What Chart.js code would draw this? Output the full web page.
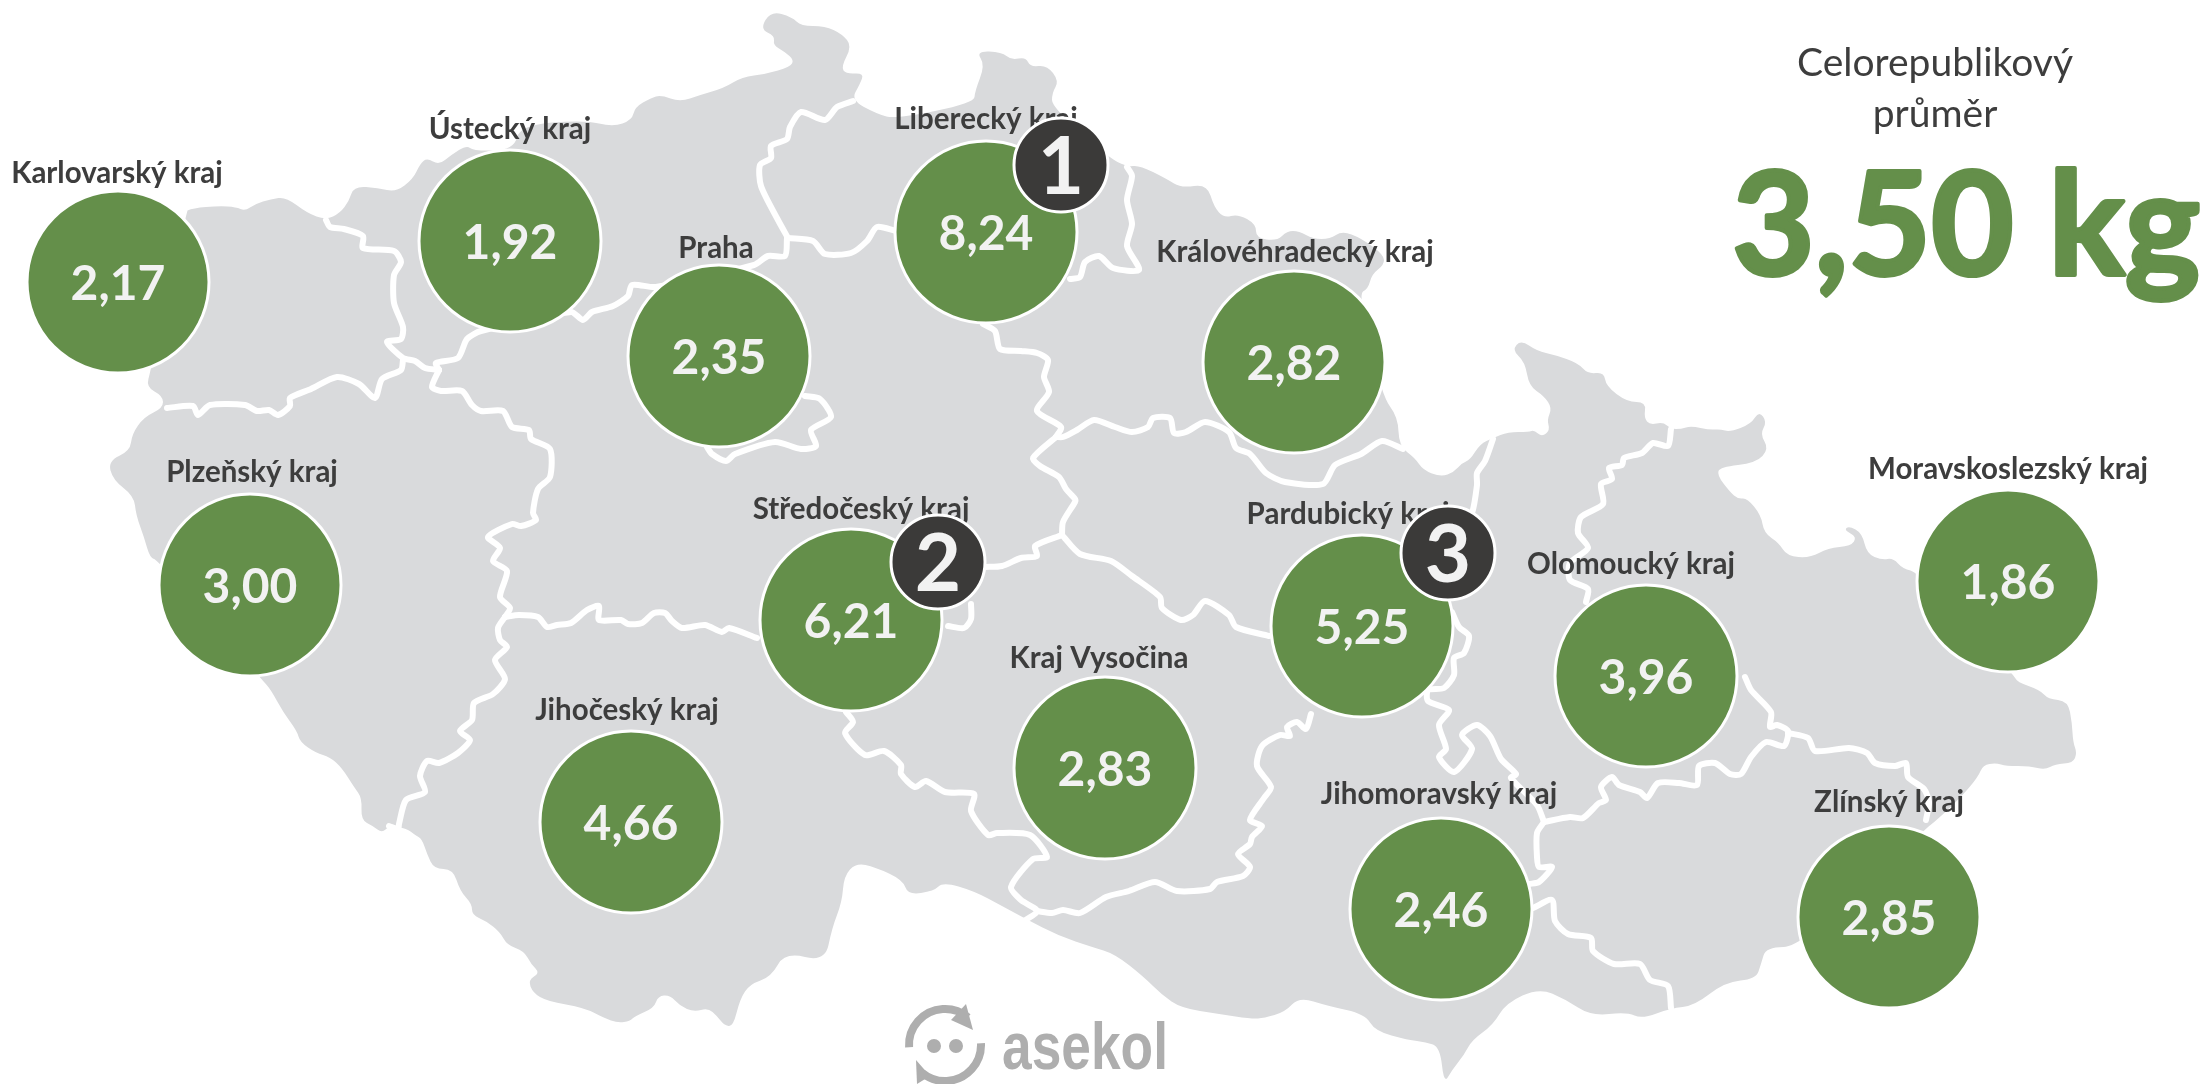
<!DOCTYPE html>
<html lang="cs">
<head>
<meta charset="utf-8">
<title>Celorepublikový průměr</title>
<script src="https://cdn.jsdelivr.net/npm/chart.js@4"></script>
<style>
  html, body { margin: 0; padding: 0; background: #fff; }
  canvas { display: block; }
</style>
</head>
<body>
<canvas id="mapa" width="2209" height="1084"></canvas>
<script>
// Kraje a hodnoty
const kraje = ['Karlovarský kraj', 'Ústecký kraj', 'Praha', 'Liberecký kraj', 'Královéhradecký kraj', 'Plzeňský kraj',
  'Středočeský kraj', 'Pardubický kraj', 'Olomoucký kraj', 'Moravskoslezský kraj', 'Jihočeský kraj', 'Kraj Vysočina',
  'Jihomoravský kraj', 'Zlínský kraj'];
const hodnoty = [2.17, 1.92, 2.35, 8.24, 2.82, 3.00, 6.21, 5.25, 3.96, 1.86, 4.66, 2.83, 2.46, 2.85];

// Poloha krajů na mapě
const krajX = [118, 510, 719, 986, 1294, 250, 851, 1362, 1646, 2008, 631, 1105, 1441, 1889];
const krajY = [282, 241, 356, 232, 362, 585, 620, 626, 676, 581, 822, 768, 909, 917];
const popisekX = [117, 510, 716, 986, 1295, 252, 861, 1348, 1631, 2008, 627, 1099, 1439, 1889];
const popisekY = [183, 139, 258, 129, 262, 482, 519, 524, 574, 479, 720, 668, 804, 812];

// Pořadí
const poradi = ['1', '2', '3'];
const poradiX = [1061, 938, 1448];
const poradiY = [165, 562, 553];

const prumerPopis = ['Celorepublikový', 'průměr'];
const prumer = '3,50 kg';

// Obrys republiky
const obrys = [[182,213],[193,208],[219,206],[236,207],[245,211],[255,204],[271,199],[286,197],[307,213],[326,220],[340,213],[349,201],[354,186],[378,188],[396,192],[413,179],[420,164],[427,158],[439,165],[451,155],[467,145],[473,151],[514,150],[520,125],[585,120],[613,127],[632,120],[635,107],[651,98],[661,95],[680,102],[700,95],[724,88],[742,77],[766,74],[790,67],[794,60],[785,52],[773,45],[775,36],[760,29],[771,11],[792,17],[801,26],[825,26],[842,34],[852,46],[841,67],[846,74],[864,73],[860,84],[851,100],[877,114],[896,119],[974,103],[975,91],[985,65],[976,51],[1002,52],[1011,60],[1026,57],[1030,67],[1047,65],[1059,81],[1052,93],[1052,107],[1108,157],[1127,167],[1139,165],[1167,179],[1181,188],[1207,184],[1214,207],[1224,218],[1238,214],[1256,224],[1256,238],[1277,241],[1287,231],[1299,231],[1313,239],[1330,239],[1342,231],[1361,238],[1384,255],[1384,265],[1372,274],[1368,289],[1358,294],[1382,396],[1398,417],[1399,446],[1415,458],[1423,470],[1441,477],[1454,472],[1462,463],[1470,460],[1480,444],[1493,438],[1508,432],[1529,432],[1534,430],[1542,437],[1550,430],[1547,420],[1552,408],[1544,396],[1529,386],[1525,362],[1512,350],[1521,340],[1537,351],[1555,355],[1578,363],[1588,374],[1604,372],[1606,386],[1627,402],[1646,402],[1644,418],[1650,425],[1663,422],[1671,429],[1681,429],[1691,426],[1710,430],[1720,429],[1730,432],[1751,424],[1759,411],[1767,422],[1760,434],[1769,449],[1756,463],[1720,467],[1717,475],[1730,492],[1738,499],[1747,498],[1761,515],[1764,533],[1779,543],[1787,556],[1810,558],[1828,548],[1851,546],[1857,537],[1844,530],[1849,526],[1862,533],[1867,554],[1882,560],[1893,558],[1903,569],[1918,572],[2014,675],[2017,682],[2040,690],[2048,699],[2068,701],[2072,723],[2073,742],[2077,753],[2073,763],[2055,764],[2045,770],[2030,766],[2006,766],[1996,763],[1983,765],[1978,777],[1962,796],[1937,820],[1924,830],[1801,947],[1766,947],[1761,964],[1756,979],[1725,982],[1694,1006],[1671,1008],[1642,1019],[1627,1012],[1591,1016],[1565,999],[1539,988],[1506,1003],[1493,1025],[1472,1040],[1464,1055],[1452,1070],[1444,1084],[1440,1047],[1426,1042],[1408,1040],[1375,1031],[1365,1014],[1328,1006],[1299,997],[1285,1012],[1264,1018],[1252,1019],[1219,1014],[1181,1008],[1162,995],[1144,977],[1115,954],[1092,947],[1059,936],[1026,919],[1002,906],[974,891],[943,882],[934,891],[908,895],[903,880],[875,867],[856,863],[844,876],[842,902],[832,928],[825,962],[785,952],[771,977],[750,984],[740,999],[733,1027],[724,1025],[717,1016],[708,1008],[694,1012],[680,1006],[670,995],[658,996],[654,1008],[635,1016],[630,1021],[618,1023],[604,1018],[585,1008],[547,1001],[533,993],[528,980],[540,973],[531,964],[524,951],[507,945],[500,932],[486,921],[472,915],[472,904],[460,891],[453,869],[434,869],[427,854],[422,839],[415,835],[406,828],[389,826],[382,833],[373,826],[361,820],[362,798],[354,787],[342,768],[330,757],[316,753],[300,742],[297,731],[283,712],[271,690],[264,682],[158,560],[150,558],[144,537],[136,515],[134,496],[113,480],[108,461],[130,451],[132,434],[144,417],[163,408],[163,396],[146,387],[151,370]];

// Hranice mezi kraji
const hranice = [
  [[167,408],[193,406],[198,415],[210,405],[245,405],[257,411],[269,410],[278,415],[290,406],[290,398],[311,389],[337,377],[359,384],[375,398],[382,379],[401,370],[403,360]],
  [[326,220],[330,227],[344,229],[363,236],[363,248],[394,251],[401,262],[394,275],[394,303],[403,327],[401,339],[387,342],[403,358],[415,361],[425,368],[439,370]],
  [[439,370],[436,363],[458,358],[467,339],[481,331],[571,312],[583,320],[592,312],[613,306],[628,296],[632,285],[656,287],[754,265],[768,256],[785,256],[787,238]],
  [[788,238],[778,220],[761,186],[760,165],[771,158],[771,146],[787,139],[790,127],[801,112],[825,120],[837,107],[853,101]],
  [[788,238],[813,241],[825,254],[851,253],[867,241],[877,227],[896,231]],
  [[1070,279],[1080,277],[1085,262],[1099,256],[1113,268],[1139,270],[1127,246],[1132,224],[1127,200],[1132,176],[1127,167]],
  [[983,324],[995,331],[1000,349],[1021,351],[1037,353],[1048,360],[1044,377],[1049,392],[1037,411],[1061,427],[1056,437]],
  [[1056,437],[1063,437],[1077,430],[1094,420],[1115,427],[1132,432],[1148,427],[1153,418],[1170,418],[1174,433],[1186,432],[1205,422],[1229,432],[1236,448],[1250,454],[1266,473],[1285,482],[1323,484],[1335,465],[1361,454],[1382,441],[1403,449]],
  [[1056,437],[1033,458],[1040,466],[1059,477],[1066,489],[1075,499],[1075,502],[1063,522],[1062,535]],
  [[1062,535],[1035,546],[1037,556],[1021,558],[1002,566],[985,567]],
  [[971,604],[971,619],[964,628],[948,626]],
  [[846,712],[853,722],[845,733],[865,755],[884,751],[901,765],[901,774],[915,787],[926,781],[945,792],[974,794],[971,811],[988,835],[997,833],[1030,835],[1047,857],[1033,859],[1011,887],[1021,900],[1037,911],[1021,923]],
  [[1037,911],[1052,913],[1063,910],[1080,913],[1106,897],[1129,891],[1155,882],[1177,891],[1210,889],[1217,882],[1243,876],[1250,867],[1238,854],[1250,844],[1252,837],[1262,826],[1250,820],[1264,798],[1271,787],[1257,766],[1262,746],[1280,735],[1290,736],[1287,727],[1297,722],[1306,729],[1311,714]],
  [[1062,535],[1080,554],[1111,561],[1132,576],[1160,597],[1162,608],[1181,620],[1193,615],[1205,601],[1229,615],[1236,627],[1269,636]],
  [[1493,439],[1485,461],[1477,473],[1477,485],[1472,513],[1462,527]],
  [[1452,612],[1459,627],[1469,636],[1464,653],[1454,658],[1454,675],[1444,688],[1428,690],[1428,701],[1449,710],[1439,725],[1446,749],[1439,757],[1454,772],[1472,749],[1462,735],[1477,725],[1490,736],[1501,759],[1516,774],[1511,778],[1537,805],[1544,822]],
  [[1544,822],[1570,817],[1583,818],[1599,803],[1606,800],[1601,787],[1612,777],[1619,785],[1640,792],[1647,798],[1658,783],[1679,783],[1697,785],[1699,766],[1715,763],[1730,774],[1741,774],[1751,757],[1766,742],[1784,746],[1788,731],[1777,725],[1770,727],[1771,712],[1751,690],[1745,677]],
  [[1788,733],[1808,738],[1815,751],[1849,748],[1867,753],[1875,763],[1895,766],[1906,763],[1908,777],[1924,789],[1929,802],[1926,820]],
  [[1544,822],[1537,833],[1537,857],[1539,867],[1552,867],[1539,882],[1529,884]],
  [[1533,908],[1552,900],[1555,921],[1568,934],[1591,938],[1593,951],[1614,964],[1640,964],[1650,980],[1668,986],[1671,1008]],
  [[1671,429],[1668,446],[1653,443],[1642,453],[1624,458],[1622,465],[1609,468],[1612,479],[1601,484],[1603,504],[1581,517],[1578,533],[1588,548],[1570,563],[1570,580],[1588,589],[1586,602]],
  [[439,370],[432,387],[441,391],[462,391],[472,405],[481,411],[503,411],[512,427],[529,430],[531,439],[550,449],[550,477],[538,489],[533,513],[536,520],[521,526],[512,524],[488,537],[500,548],[493,561],[507,571],[500,597],[510,608],[505,617]],
  [[505,617],[519,615],[538,617],[547,627],[557,625],[571,623],[587,610],[599,606],[599,620],[621,620],[628,624],[642,623],[654,613],[665,613],[672,621],[682,628],[705,625],[722,632],[729,628],[757,638]],
  [[505,617],[498,628],[500,640],[507,647],[495,660],[505,679],[493,694],[474,703],[472,720],[460,731],[470,740],[458,753],[439,763],[427,761],[420,776],[425,792],[406,800],[399,824],[398,829],[389,826]],
  [[805,396],[820,399],[831,417],[811,430],[816,446],[801,449],[775,442],[735,454],[726,461],[712,454],[707,447]]
];

const ZELENA = '#648F4A';
const SEDA = '#D9DADC';
const TMAVA = '#3B3A39';
const TEXT = '#3D3D3D';
const SVETLA = '#F2F2F2';
const LOGO = '#AEAEAE';

function napis(ctx, text, x, y, font, barva) {
  ctx.font = font;
  ctx.fillStyle = barva;
  ctx.textAlign = 'center';
  ctx.textBaseline = 'alphabetic';
  ctx.fillText(text, x, y);
}

const mapaPlugin = {
  id: 'mapa',
  // Podklad mapy pod hranicemi, rohy zaoblené přes středy úseček
  beforeDatasetsDraw(chart) {
    const ctx = chart.ctx;
    const sx = chart.scales.x, sy = chart.scales.y;
    const body = obrys.map(function (p) {
      return [sx.getPixelForValue(p[0]), sy.getPixelForValue(p[1])];
    });
    ctx.save();
    ctx.fillStyle = SEDA;
    ctx.beginPath();
    body.forEach(function (p, i) {
      const dalsi = body[(i + 1) % body.length];
      const mx = (p[0] + dalsi[0]) / 2, my = (p[1] + dalsi[1]) / 2;
      if (i === 0) ctx.moveTo(mx, my); else ctx.quadraticCurveTo(p[0], p[1], mx, my);
    });
    ctx.closePath();
    ctx.fill();
    ctx.restore();
  },
  // Názvy krajů jsou nad hranicemi, ale pod kruhy
  beforeDatasetDraw(chart, args) {
    if (chart.data.datasets[args.index].label !== 'kraje') return;
    const ctx = chart.ctx;
    const sx = chart.scales.x, sy = chart.scales.y;
    ctx.save();
    kraje.forEach(function (k, i) {
      napis(ctx, k, sx.getPixelForValue(popisekX[i]), sy.getPixelForValue(popisekY[i]), 'bold 29.5px Lato', TEXT);
    });
    ctx.restore();
  },
  afterDatasetsDraw(chart) {
    const ctx = chart.ctx;
    const sx = chart.scales.x, sy = chart.scales.y;
    ctx.save();
    hodnoty.forEach(function (h, i) {
      const text = h.toFixed(2).replace('.', ',');
      napis(ctx, text, sx.getPixelForValue(krajX[i]), sy.getPixelForValue(krajY[i]) + 18, 'bold 48px Lato', SVETLA);
    });
    poradi.forEach(function (c, i) {
      napis(ctx, c, sx.getPixelForValue(poradiX[i]), sy.getPixelForValue(poradiY[i]) + 29, 'bold 80px Lato', SVETLA);
    });

    // Celorepublikový průměr
    napis(ctx, prumerPopis[0], 1935, 76, '39px Lato', TEXT);
    napis(ctx, prumerPopis[1], 1935, 127, '39px Lato', TEXT);
    ctx.font = 'bold 144px Lato';
    ctx.fillStyle = ZELENA;
    ctx.strokeStyle = ZELENA;
    ctx.lineWidth = 4;
    ctx.lineJoin = 'round';
    ctx.textAlign = 'left';
    ctx.fillText(prumer, 1732, 275, 468);
    ctx.strokeText(prumer, 1732, 275, 468);

    // Logo
    ctx.strokeStyle = LOGO;
    ctx.fillStyle = LOGO;
    ctx.lineWidth = 8;
    ctx.beginPath();
    ctx.arc(945, 1045, 36, Math.PI * 0.98, Math.PI * 1.72);
    ctx.stroke();
    ctx.beginPath();
    ctx.arc(945, 1045, 36, -0.05, Math.PI * 0.72);
    ctx.stroke();
    ctx.beginPath();
    ctx.moveTo(966, 1004);
    ctx.lineTo(973, 1030);
    ctx.lineTo(951, 1020);
    ctx.closePath();
    ctx.fill();
    ctx.beginPath();
    ctx.moveTo(916, 1060);
    ctx.lineTo(930, 1076);
    ctx.lineTo(917, 1084);
    ctx.closePath();
    ctx.fill();
    ctx.beginPath();
    ctx.arc(934, 1046, 7, 0, Math.PI * 2);
    ctx.arc(956, 1046, 7, 0, Math.PI * 2);
    ctx.fill();
    ctx.font = 'bold 66px "Liberation Sans Narrow", "Liberation Sans"';
    ctx.textAlign = 'left';
    ctx.fillText('asekol', 1002, 1069, 166);
    ctx.restore();
  }
};

const datasety = [];
datasety.push({
  label: 'pořadí',
  type: 'bubble',
  order: 0,
  data: poradi.map(function (c, i) { return { x: poradiX[i], y: poradiY[i], r: 47 }; }),
  backgroundColor: TMAVA,
  borderColor: '#FFFFFF',
  borderWidth: 3,
  clip: false
});
datasety.push({
  label: 'kraje',
  type: 'bubble',
  order: 1,
  data: hodnoty.map(function (h, i) { return { x: krajX[i], y: krajY[i], r: 91 }; }),
  backgroundColor: ZELENA,
  borderColor: '#FFFFFF',
  borderWidth: 3,
  clip: false
});
hranice.forEach(function (usek) {
  datasety.push({
    type: 'scatter',
    order: 2,
    showLine: true,
    tension: 0.25,
    data: usek.map(function (p) { return { x: p[0], y: p[1] }; }),
    borderColor: '#FFFFFF',
    borderWidth: 6,
    borderJoinStyle: 'round',
    borderCapStyle: 'round',
    pointRadius: 0,
    clip: false
  });
});

new Chart(document.getElementById('mapa'), {
  type: 'bubble',
  data: { datasets: datasety },
  options: {
    responsive: false,
    animation: false,
    layout: { padding: 0, autoPadding: false },
    events: [],
    plugins: { legend: { display: false }, tooltip: { enabled: false } },
    scales: {
      x: { type: 'linear', min: 0, max: 2209, display: false },
      y: { type: 'linear', min: 0, max: 1084, reverse: true, display: false }
    }
  },
  plugins: [mapaPlugin]
});
</script>
</body>
</html>
